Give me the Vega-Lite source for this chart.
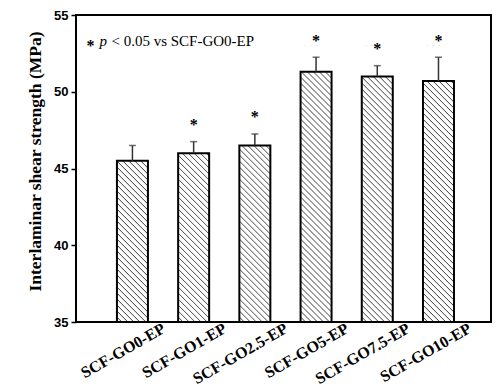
{
  "$schema": "https://vega.github.io/schema/vega-lite/v6.json",
  "width": 415,
  "height": 307,
  "autosize": "none",
  "padding": {"left": 76, "top": 15, "right": 9, "bottom": 65},
  "background": "white",
  "config": {"view": {"stroke": "black", "strokeWidth": 2}},
  "data": {"values": [
    {"sample": "SCF-GO0-EP", "value": 45.5, "hi": 46.5, "star": null},
    {"sample": "SCF-GO1-EP", "value": 46.0, "hi": 46.75, "star": 48.05},
    {"sample": "SCF-GO2.5-EP", "value": 46.5, "hi": 47.25, "star": 48.55},
    {"sample": "SCF-GO5-EP", "value": 51.3, "hi": 52.25, "star": 53.5},
    {"sample": "SCF-GO7.5-EP", "value": 51.0, "hi": 51.7, "star": 53.0},
    {"sample": "SCF-GO10-EP", "value": 50.7, "hi": 52.25, "star": 53.5}
  ]},
  "encoding": {
    "x": {
      "field": "sample", "type": "nominal", "sort": null,
      "scale": {"paddingInner": 0.5, "paddingOuter": 0.64, "align": 0.525},
      "axis": {
        "title": null, "labelAngle": -30, "labelAlign": "right", "labelBaseline": "alphabetic",
        "labelFont": "Liberation Serif", "labelFontSize": 16, "labelFontWeight": "bold", "labelColor": "black",
        "labelOffset": 34, "labelPadding": 9, "ticks": false, "domain": false
      }
    }
  },
  "layer": [
    {
      "mark": {"type": "bar", "width": 31, "stroke": null, "fill": {
        "gradient": "linear", "x1": 0, "y1": 1, "x2": 0.19249, "y2": -0.7156,
        "stops": [
          {"offset": 0, "color": "#fff"}, {"offset": 0.008, "color": "#fff"}, {"offset": 0.0104, "color": "#505050"},
          {"offset": 0.0125, "color": "#fff"}, {"offset": 0.0205, "color": "#fff"}, {"offset": 0.0229, "color": "#505050"},
          {"offset": 0.025, "color": "#fff"}, {"offset": 0.033, "color": "#fff"}, {"offset": 0.0354, "color": "#505050"},
          {"offset": 0.0375, "color": "#fff"}, {"offset": 0.0455, "color": "#fff"}, {"offset": 0.0479, "color": "#505050"},
          {"offset": 0.05, "color": "#fff"}, {"offset": 0.058, "color": "#fff"}, {"offset": 0.0604, "color": "#505050"},
          {"offset": 0.0625, "color": "#fff"}, {"offset": 0.0705, "color": "#fff"}, {"offset": 0.0729, "color": "#505050"},
          {"offset": 0.075, "color": "#fff"}, {"offset": 0.083, "color": "#fff"}, {"offset": 0.0854, "color": "#505050"},
          {"offset": 0.0875, "color": "#fff"}, {"offset": 0.0955, "color": "#fff"}, {"offset": 0.0979, "color": "#505050"},
          {"offset": 0.1, "color": "#fff"}, {"offset": 0.108, "color": "#fff"}, {"offset": 0.1104, "color": "#505050"},
          {"offset": 0.1125, "color": "#fff"}, {"offset": 0.1205, "color": "#fff"}, {"offset": 0.1229, "color": "#505050"},
          {"offset": 0.125, "color": "#fff"}, {"offset": 0.133, "color": "#fff"}, {"offset": 0.1354, "color": "#505050"},
          {"offset": 0.1375, "color": "#fff"}, {"offset": 0.1455, "color": "#fff"}, {"offset": 0.1479, "color": "#505050"},
          {"offset": 0.15, "color": "#fff"}, {"offset": 0.158, "color": "#fff"}, {"offset": 0.1604, "color": "#505050"},
          {"offset": 0.1625, "color": "#fff"}, {"offset": 0.1705, "color": "#fff"}, {"offset": 0.1729, "color": "#505050"},
          {"offset": 0.175, "color": "#fff"}, {"offset": 0.183, "color": "#fff"}, {"offset": 0.1854, "color": "#505050"},
          {"offset": 0.1875, "color": "#fff"}, {"offset": 0.1955, "color": "#fff"}, {"offset": 0.1979, "color": "#505050"},
          {"offset": 0.2, "color": "#fff"}, {"offset": 0.208, "color": "#fff"}, {"offset": 0.2104, "color": "#505050"},
          {"offset": 0.2125, "color": "#fff"}, {"offset": 0.2205, "color": "#fff"}, {"offset": 0.2229, "color": "#505050"},
          {"offset": 0.225, "color": "#fff"}, {"offset": 0.233, "color": "#fff"}, {"offset": 0.2354, "color": "#505050"},
          {"offset": 0.2375, "color": "#fff"}, {"offset": 0.2455, "color": "#fff"}, {"offset": 0.2479, "color": "#505050"},
          {"offset": 0.25, "color": "#fff"}, {"offset": 0.258, "color": "#fff"}, {"offset": 0.2604, "color": "#505050"},
          {"offset": 0.2625, "color": "#fff"}, {"offset": 0.2705, "color": "#fff"}, {"offset": 0.2729, "color": "#505050"},
          {"offset": 0.275, "color": "#fff"}, {"offset": 0.283, "color": "#fff"}, {"offset": 0.2854, "color": "#505050"},
          {"offset": 0.2875, "color": "#fff"}, {"offset": 0.2955, "color": "#fff"}, {"offset": 0.2979, "color": "#505050"},
          {"offset": 0.3, "color": "#fff"}, {"offset": 0.308, "color": "#fff"}, {"offset": 0.3104, "color": "#505050"},
          {"offset": 0.3125, "color": "#fff"}, {"offset": 0.3205, "color": "#fff"}, {"offset": 0.3229, "color": "#505050"},
          {"offset": 0.325, "color": "#fff"}, {"offset": 0.333, "color": "#fff"}, {"offset": 0.3354, "color": "#505050"},
          {"offset": 0.3375, "color": "#fff"}, {"offset": 0.3455, "color": "#fff"}, {"offset": 0.3479, "color": "#505050"},
          {"offset": 0.35, "color": "#fff"}, {"offset": 0.358, "color": "#fff"}, {"offset": 0.3604, "color": "#505050"},
          {"offset": 0.3625, "color": "#fff"}, {"offset": 0.3705, "color": "#fff"}, {"offset": 0.3729, "color": "#505050"},
          {"offset": 0.375, "color": "#fff"}, {"offset": 0.383, "color": "#fff"}, {"offset": 0.3854, "color": "#505050"},
          {"offset": 0.3875, "color": "#fff"}, {"offset": 0.3955, "color": "#fff"}, {"offset": 0.3979, "color": "#505050"},
          {"offset": 0.4, "color": "#fff"}, {"offset": 0.408, "color": "#fff"}, {"offset": 0.4104, "color": "#505050"},
          {"offset": 0.4125, "color": "#fff"}, {"offset": 0.4205, "color": "#fff"}, {"offset": 0.4229, "color": "#505050"},
          {"offset": 0.425, "color": "#fff"}, {"offset": 0.433, "color": "#fff"}, {"offset": 0.4354, "color": "#505050"},
          {"offset": 0.4375, "color": "#fff"}, {"offset": 0.4455, "color": "#fff"}, {"offset": 0.4479, "color": "#505050"},
          {"offset": 0.45, "color": "#fff"}, {"offset": 0.458, "color": "#fff"}, {"offset": 0.4604, "color": "#505050"},
          {"offset": 0.4625, "color": "#fff"}, {"offset": 0.4705, "color": "#fff"}, {"offset": 0.4729, "color": "#505050"},
          {"offset": 0.475, "color": "#fff"}, {"offset": 0.483, "color": "#fff"}, {"offset": 0.4854, "color": "#505050"},
          {"offset": 0.4875, "color": "#fff"}, {"offset": 0.4955, "color": "#fff"}, {"offset": 0.4979, "color": "#505050"},
          {"offset": 0.5, "color": "#fff"}, {"offset": 0.508, "color": "#fff"}, {"offset": 0.5104, "color": "#505050"},
          {"offset": 0.5125, "color": "#fff"}, {"offset": 0.5205, "color": "#fff"}, {"offset": 0.5229, "color": "#505050"},
          {"offset": 0.525, "color": "#fff"}, {"offset": 0.533, "color": "#fff"}, {"offset": 0.5354, "color": "#505050"},
          {"offset": 0.5375, "color": "#fff"}, {"offset": 0.5455, "color": "#fff"}, {"offset": 0.5479, "color": "#505050"},
          {"offset": 0.55, "color": "#fff"}, {"offset": 0.558, "color": "#fff"}, {"offset": 0.5604, "color": "#505050"},
          {"offset": 0.5625, "color": "#fff"}, {"offset": 0.5705, "color": "#fff"}, {"offset": 0.5729, "color": "#505050"},
          {"offset": 0.575, "color": "#fff"}, {"offset": 0.583, "color": "#fff"}, {"offset": 0.5854, "color": "#505050"},
          {"offset": 0.5875, "color": "#fff"}, {"offset": 0.5955, "color": "#fff"}, {"offset": 0.5979, "color": "#505050"},
          {"offset": 0.6, "color": "#fff"}, {"offset": 0.608, "color": "#fff"}, {"offset": 0.6104, "color": "#505050"},
          {"offset": 0.6125, "color": "#fff"}, {"offset": 1, "color": "#fff"}
        ]
      }},
      "encoding": {
        "y": {"datum": 53, "type": "quantitative"},
        "y2": {"datum": 35}
      }
    },
    {
      "mark": {"type": "bar", "width": 33, "fill": "white", "stroke": null},
      "encoding": {
        "y": {"field": "value", "type": "quantitative"},
        "y2": {"datum": 53}
      }
    },
    {
      "mark": {"type": "bar", "width": 31, "fill": "transparent", "stroke": "black", "strokeWidth": 2},
      "encoding": {
        "y": {
          "field": "value", "type": "quantitative",
          "scale": {"domain": [35, 55], "nice": false, "zero": false},
          "axis": {
            "title": "Interlaminar shear strength (MPa)",
            "titleFont": "Liberation Serif", "titleFontSize": 17.5, "titleFontWeight": "bold", "titleColor": "black",
            "titlePadding": 9, "titleY": 146,
            "values": [35, 37.5, 40, 42.5, 45, 47.5, 50, 52.5, 55],
            "labelExpr": "datum.value % 5 === 0 ? datum.label : ''",
            "labelFont": "Liberation Sans", "labelFontSize": 13, "labelFontWeight": "bold", "labelColor": "black",
            "labelPadding": 3,
            "ticks": true, "tickSize": 5,
            "tickColor": "black", "tickWidth": 1.5,
            "domain": false, "grid": false
          }
        },
        "y2": {"datum": 35}
      }
    },
    {
      "mark": {"type": "rule", "stroke": "#333", "strokeWidth": 1.5},
      "encoding": {
        "y": {"field": "value", "type": "quantitative"},
        "y2": {"field": "hi"}
      }
    },
    {
      "mark": {"type": "tick", "orient": "horizontal", "size": 7, "thickness": 1.5, "color": "#333"},
      "encoding": {
        "y": {"field": "hi", "type": "quantitative"}
      }
    },
    {
      "transform": [{"filter": "isValid(datum.star)"}],
      "mark": {"type": "text", "text": "*", "font": "Liberation Serif", "fontSize": 16, "fontWeight": "bold", "baseline": "middle", "dy": 3, "color": "black"},
      "encoding": {
        "y": {"field": "star", "type": "quantitative"}
      }
    },
    {
      "data": {"values": [{"t": "*"}]},
      "mark": {"type": "text", "font": "Liberation Serif", "fontSize": 16, "fontWeight": "bold", "align": "center", "baseline": "middle", "dx": -42, "dy": 3, "color": "black"},
      "encoding": {
        "x": {"datum": "SCF-GO0-EP"},
        "y": {"datum": 53.2, "type": "quantitative"},
        "text": {"field": "t"}
      }
    },
    {
      "data": {"values": [{"t": "p"}]},
      "mark": {"type": "text", "font": "Liberation Serif", "fontSize": 15, "fontStyle": "italic", "align": "left", "baseline": "alphabetic", "dx": -33, "color": "black"},
      "encoding": {
        "x": {"datum": "SCF-GO0-EP"},
        "y": {"datum": 53.0, "type": "quantitative"},
        "text": {"field": "t"}
      }
    },
    {
      "data": {"values": [{"t": "< 0.05 vs SCF-GO0-EP"}]},
      "mark": {"type": "text", "font": "Liberation Serif", "fontSize": 15, "align": "left", "baseline": "alphabetic", "dx": -21, "color": "black"},
      "encoding": {
        "x": {"datum": "SCF-GO0-EP"},
        "y": {"datum": 53.0, "type": "quantitative"},
        "text": {"field": "t"}
      }
    }
  ]
}
